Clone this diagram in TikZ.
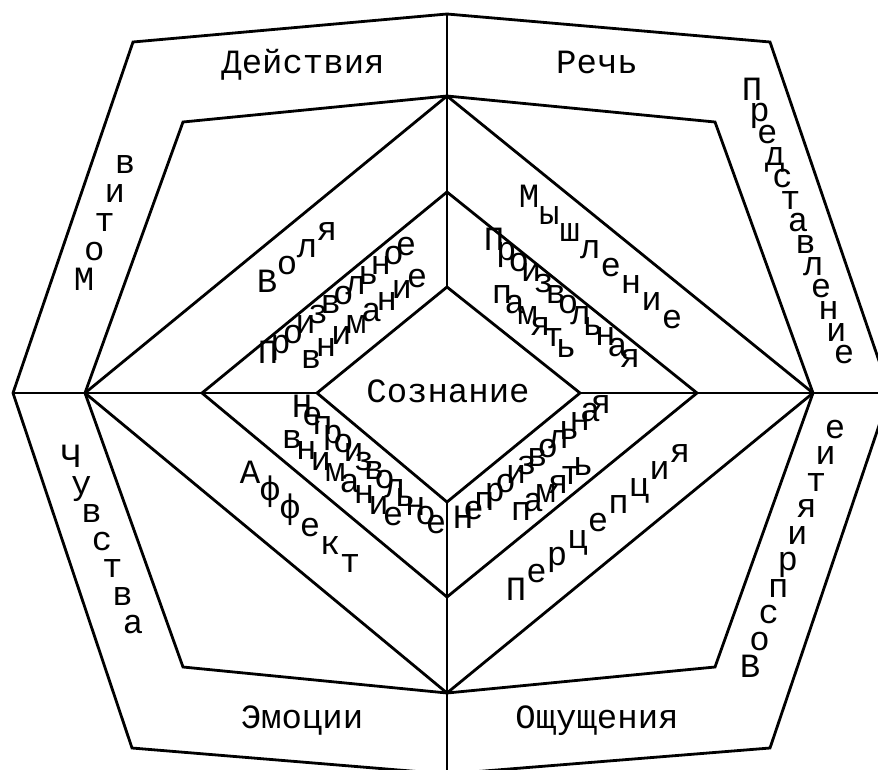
\documentclass[tikz,border=0pt]{standalone}
\usepackage{fontspec}
\setmainfont{Liberation Mono}
\usetikzlibrary{calc}
\newcommand\wordline[5]{%
  \foreach \c [count=\i from 0] in {#5} {%
    \pgfmathsetmacro\tt{\i/(#3-1)}%
    \node[letter] (#1-\i) at ($(#2)!\tt!(#4)$) {\c};
  }%
}
\begin{document}
\begin{tikzpicture}[x=1pt,y=-1pt,
  edge/.style={draw=black, line width=2.8pt, line join=miter},
  letter/.style={anchor=base, inner sep=0pt, font=\fontsize{34}{40}\selectfont},
  wordtxt/.style={anchor=base, inner sep=0pt, font=\fontsize{34}{40}\selectfont}]
\useasboundingbox (0,0) rectangle (878,769);
\clip (0,0) rectangle (878,769);
% outer octagon
\coordinate (o1) at (13,393);
\coordinate (o2) at (133,42);
\coordinate (o3) at (447,14);
\coordinate (o4) at (770,42);
\coordinate (o5) at (890,393);
\coordinate (o6) at (770,748);
\coordinate (o7) at (447,774);
\coordinate (o8) at (132,748);
% second ring
\coordinate (r1) at (85,393);
\coordinate (r2) at (183,122);
\coordinate (r3) at (447,96);
\coordinate (r4) at (715,122);
\coordinate (r5) at (813,393);
\coordinate (r6) at (715,667);
\coordinate (r7) at (447,693);
\coordinate (r8) at (183,667);
% middle diamond
\coordinate (d1) at (202,393);
\coordinate (d2) at (447,192);
\coordinate (d3) at (697,393);
\coordinate (d4) at (447,597);
% inner diamond
\coordinate (c1) at (317,393);
\coordinate (c2) at (447,287);
\coordinate (c3) at (580,393);
\coordinate (c4) at (447,502);

\draw[edge] (o1)--(o2)--(o3)--(o4)--(o5)--(o6)--(o7)--(o8)--cycle;
\draw[edge] (r1)--(r2)--(r3)--(r4)--(r5)--(r6)--(r7)--(r8)--cycle;
\draw[edge] (r1)--(r3)--(r5)--(r7)--cycle;
\draw[edge] (d1)--(d2)--(d3)--(d4)--cycle;
\draw[edge] (c1)--(c2)--(c3)--(c4)--cycle;
\draw[edge] (o1)--(c1);
\draw[edge] (c3)--(o5);
\draw[edge] (o3)--(c2);
\draw[edge] (c4)--(o7);

% horizontal labels
\node[wordtxt] (deistviya) at (303,73) {Действия};
\node[wordtxt] (rech) at (597,73) {Речь};
\node[wordtxt] (soznanie) at (448,402) {Сознание};
\node[wordtxt] (emocii) at (302,728) {Эмоции};
\node[wordtxt] (oshch) at (597,728) {Ощущения};

% letter-by-letter labels
\wordline{motiv}{84,290}{5}{125,173}{М,о,т,и,в}
\wordline{volya}{267,292}{4}{327,240}{В,о,л,я}
\wordline{proizvA}{268,363}{12}{406,255}{П,р,о,и,з,в,о,л,ь,н,о,е}
\wordline{vnimA}{311,368}{8}{417,287}{в,н,и,м,а,н,и,е}
\wordline{mysh}{529,207}{8}{672,328}{М,ы,ш,л,е,н,и,е}
\wordline{proizvB}{494,250}{12}{630,367}{П,р,о,и,з,в,о,л,ь,н,а,я}
\wordline{pamA}{502,303}{6}{566,357}{п,а,м,я,т,ь}
\wordline{pred}{752,100}{13}{844,363}{П,р,е,д,с,т,а,в,л,е,н,и,е}
\wordline{chuv}{71,467}{7}{133,633}{Ч,у,в,с,т,в,а}
\wordline{affekt}{250,483}{6}{350,572}{А,ф,ф,е,к,т}
\wordline{neprA}{302,417}{14}{436,533}{Н,е,п,р,о,и,з,в,о,л,ь,н,о,е}
\wordline{vnimB}{292,448}{8}{393,525}{в,н,и,м,а,н,и,е}
\wordline{neprB}{463,528}{14}{601,413}{Н,е,п,р,о,и,з,в,о,л,ь,н,а,я}
\wordline{pamB}{521,520}{6}{583,475}{п,а,м,я,т,ь}
\wordline{perc}{516,600}{9}{680,462}{П,е,р,ц,е,п,ц,и,я}
\wordline{vospr}{750,677}{10}{835,438}{В,о,с,п,р,и,я,т,и,е}
\end{tikzpicture}
\end{document}
